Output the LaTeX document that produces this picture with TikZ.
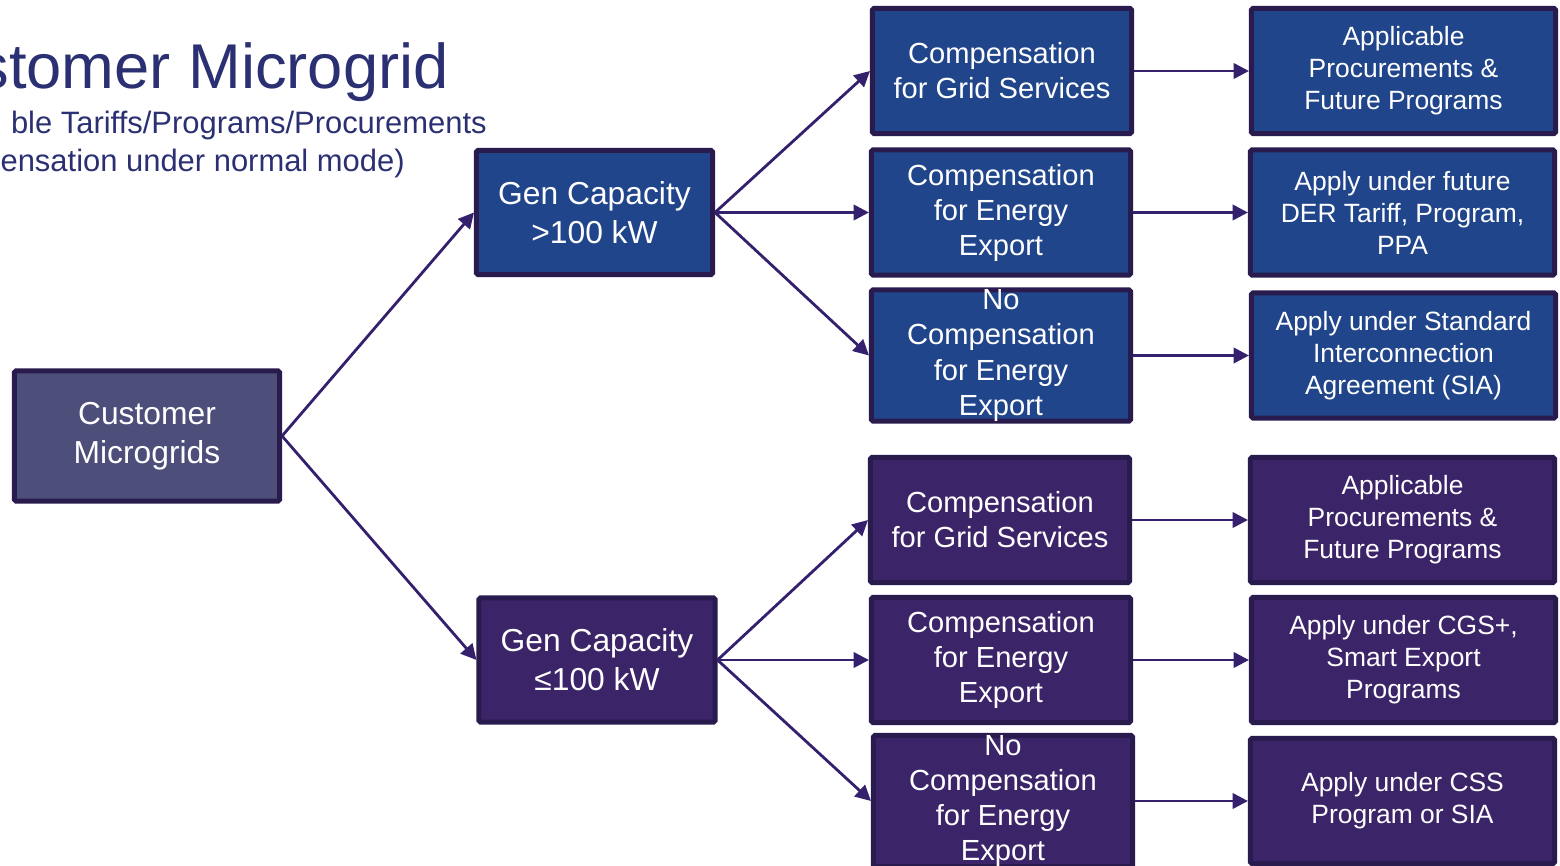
\documentclass[tikz,border=0pt]{standalone}
\usepackage{fontspec}
\setmainfont{Liberation Sans}
\usepackage{tikz}
\usetikzlibrary{arrows.meta}
\definecolor{gridblue}{RGB}{32,69,138}
\definecolor{gridpurple}{RGB}{59,36,104}
\definecolor{rootgray}{RGB}{77,79,122}
\definecolor{edgedark}{RGB}{42,27,79}
\definecolor{arrowcol}{RGB}{52,32,108}
\definecolor{titlecol}{RGB}{43,48,115}
\tikzset{
  box/.style={draw=edgedark, line width=0.125cm, rounded corners=1pt, text=white, align=center, inner sep=0pt},
  rootbox/.style={box, fill=rootgray, minimum width=6.625cm, minimum height=3.25cm, font=\fontsize{22.6}{27.7}\selectfont},
  genbox/.style={box, minimum width=5.9cm, minimum height=3.1cm, font=\fontsize{22.6}{27.7}\selectfont},
  midbox/.style={box, minimum width=6.475cm, minimum height=3.125cm, font=\fontsize{20.7}{24.9}\selectfont},
  endbox/.style={box, minimum width=7.6cm, minimum height=3.125cm, font=\fontsize{18.8}{22.8}\selectfont},
  heading/.style={anchor=base east, inner sep=0pt, text=titlecol},
  arr/.style={draw=arrowcol, line width=2pt, -{Triangle[length=11pt,width=11pt]}}
}

\begin{document}
\begin{tikzpicture}[x=0.025cm, y=-0.025cm]
  \clip (0,0) rectangle (1560,866);
  \node[heading, font=\fontsize{45}{54}\selectfont] (title) at (449,89) {stomer Microgrid};
  \node[heading, font=\fontsize{22}{27}\selectfont] (subone) at (487,134) {ble Tariffs/Programs/Procurements};
  \node[heading, font=\fontsize{22}{27}\selectfont] (subtwo) at (405,172) {ensation under normal mode)};

  \node[rootbox] (root) at (147,436) {Customer\\Microgrids};
  \node[genbox, fill=gridblue] (big) at (594.5,212.5) {Gen Capacity\\>100 kW};
  \node[genbox, fill=gridpurple] (small) at (597,660) {Gen Capacity\\≤100 kW};

  \node[midbox, fill=gridblue] (bigserv) at (1002,71) {Compensation\\for Grid Services};
  \node[midbox, fill=gridblue] (bigexp) at (1001,212.5) {Compensation\\for Energy\\Export};
  \node[midbox, fill=gridblue] (bignone) at (1001,355.5) {No\\Compensation\\for Energy\\Export};
  \node[midbox, fill=gridpurple] (smallserv) at (1000,520) {Compensation\\for Grid Services};
  \node[midbox, fill=gridpurple] (smallexp) at (1001,660) {Compensation\\for Energy\\Export};
  \node[midbox, fill=gridpurple] (smallnone) at (1003,801) {No\\Compensation\\for Energy\\Export};

  \node[endbox, fill=gridblue] (bigproc) at (1403.5,71) {Applicable\\Procurements \&\\Future Programs};
  \node[endbox, fill=gridblue] (bigtariff) at (1402.5,212.5) {Apply under future\\DER Tariff, Program,\\PPA};
  \node[endbox, fill=gridblue] (bigsia) at (1403.5,355.5) {Apply under Standard\\Interconnection\\Agreement (SIA)};
  \node[endbox, fill=gridpurple] (smallproc) at (1402.5,520) {Applicable\\Procurements \&\\Future Programs};
  \node[endbox, fill=gridpurple] (smallcgs) at (1403.5,660) {Apply under CGS+,\\Smart Export\\Programs};
  \node[endbox, fill=gridpurple] (smallcss) at (1402.5,801) {Apply under CSS\\Program or SIA};

  \draw[arr] (root.east) -- (big.west);
  \draw[arr] (root.east) -- (small.west);
  \foreach \a/\b in {big/bigserv, big/bigexp, big/bignone, small/smallserv, small/smallexp, small/smallnone}
    \draw[arr] (\a.east) -- (\b.west);
  \foreach \a/\b in {bigserv/bigproc, bigexp/bigtariff, bignone/bigsia, smallserv/smallproc, smallexp/smallcgs, smallnone/smallcss}
    \draw[arr] (\a.east) -- (\b.west);
\end{tikzpicture}
\end{document}
